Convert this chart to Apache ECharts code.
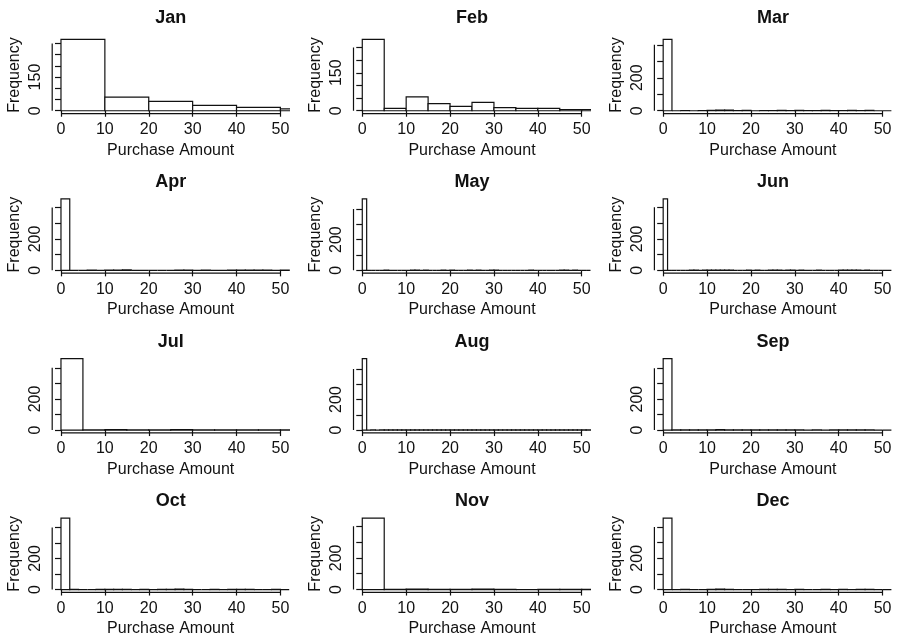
<!DOCTYPE html>
<html>
<head>
<meta charset="utf-8">
<title>Purchase Amount by Month</title>
<script src="https://cdn.jsdelivr.net/npm/echarts@6/dist/echarts.min.js"></script>
<style>
  html, body { margin: 0; padding: 0; background: #fff; }
  #chart { width: 897px; height: 638px; }
</style>
</head>
<body>
<div id="chart"></div>
<script>
// Monthly histograms of purchase amounts: bin width and bin counts from 0 upward.
var months = ['Jan', 'Feb', 'Mar', 'Apr', 'May', 'Jun', 'Jul', 'Aug', 'Sep', 'Oct', 'Nov', 'Dec'];
var binWidths = [10, 5, 2, 2, 1, 1, 5, 1, 2, 2, 5, 2];

var janCounts = [318, 61, 42, 24, 15, 8];
var febCounts = [282, 9, 55, 28, 17, 33, 12, 9, 9, 5, 5];
var marCounts = [433, 0, 1, 0, 1, 2, 4, 4, 1, 2, 0, 1, 1, 2, 1, 2, 1, 1, 2, 1, 1, 2, 1, 2, 0, 0];
var aprCounts = [455, 0, 0, 1, 0, 2, 1, 3, 0, 0, 0, 0, 0, 2, 2, 0, 1, 0, 0, 1, 1, 1, 1, 2, 0, 1];
var mayCounts = [465, 0, 0, 0, 0, 1, 0, 0, 0, 0, 0, 1, 1, 0, 1, 0, 0, 0, 1, 0, 1, 0, 0, 0, 1, 0,
                 1, 0, 0, 2, 1, 0, 0, 0, 0, 0, 0, 0, 1, 0, 0, 0, 0, 0, 0, 1, 1, 0, 1, 0, 0, 0];
var junCounts = [453, 0, 0, 0, 0, 0, 1, 1, 0, 1, 1, 2, 2, 1, 1, 1, 0, 0, 0, 1, 0, 1, 0, 0, 1, 1,
                 1, 0, 1, 1, 0, 1, 0, 0, 0, 1, 0, 0, 0, 0, 1, 1, 1, 1, 1, 0, 1, 0, 0, 0, 0, 0];
var julCounts = [459, 1, 3, 1, 1, 3, 1, 1, 1, 1, 1];
var augCounts = [468, 0, 1, 0, 1, 1, 2, 2, 1, 1, 2, 1, 1, 2, 1, 2, 2, 1, 1, 2, 1, 1, 2, 1, 1, 2,
                 1, 1, 2, 2, 1, 1, 2, 1, 1, 2, 1, 1, 2, 1, 2, 1, 1, 2, 1, 1, 2, 1, 1, 1, 2, 1];
var sepCounts = [462, 2, 1, 1, 1, 2, 3, 1, 1, 1, 1, 1, 1, 1, 1, 1, 0, 1, 0, 1, 1, 1, 1, 1, 0, 0];
var octCounts = [460, 1, 0, 0, 1, 1, 2, 1, 0, 1, 0, 1, 2, 3, 1, 0, 0, 1, 0, 1, 1, 1, 0, 0, 1, 0];
var novCounts = [451, 1, 3, 1, 1, 3, 1, 0, 1, 1, 1];
var decCounts = [457, 0, 1, 0, 0, 1, 3, 2, 0, 0, 0, 1, 2, 2, 0, 1, 0, 0, 1, 0, 1, 0, 1, 1, 0, 0];

var allCounts = [janCounts, febCounts, marCounts, aprCounts, mayCounts, junCounts,
                 julCounts, augCounts, sepCounts, octCounts, novCounts, decCounts];

// Axis ticks and the subset of tick values that carry a label
var xTicks = [0, 10, 20, 30, 40, 50];
var xLimits = [0, 50];
var yTicksSmall = [0, 50, 100, 150, 200, 250, 300];
var yTicksFeb = [0, 50, 100, 150, 200, 250];
var yTicksLarge = [0, 100, 200, 300, 400];
var yLabelsSmall = [0, 150];
var yLabelsLarge = [0, 200];
var yTicksByMonth = [yTicksSmall, yTicksFeb, yTicksLarge, yTicksLarge, yTicksLarge, yTicksLarge,
                     yTicksLarge, yTicksLarge, yTicksLarge, yTicksLarge, yTicksLarge, yTicksLarge];
var yLabelsByMonth = [yLabelsSmall, yLabelsSmall, yLabelsLarge, yLabelsLarge, yLabelsLarge, yLabelsLarge,
                      yLabelsLarge, yLabelsLarge, yLabelsLarge, yLabelsLarge, yLabelsLarge, yLabelsLarge];
var xAxisTitle = 'Purchase Amount';
var yAxisTitles = ['Frequency', 'Frequency', 'Frequency', 'Frequency', 'Frequency', 'Frequency',
                   '', '', '', 'Frequency', 'Frequency', 'Frequency'];

// Panel layout (3 columns x 4 rows)
var FONT = '"Liberation Sans", Arial, Helvetica, sans-serif';
var INK = '#111';
var colLeft = [52.2, 353.5, 654.4];
var rowTop = [36.5, 196.1, 355.8, 515.3];
var titleMid = [16.6, 181.2, 340.8, 500.2];
var panelW = 237;
var panelH = 77.1;
var PAD = 0.04; // axis range padding on each side
var LINE_W = 1.2;

var chart = echarts.init(document.getElementById('chart'), null, { renderer: 'canvas' });

var grids = [], xAxes = [], yAxes = [], series = [], titles = [];

months.forEach(function (m, i) {
  var r = Math.floor(i / 3), c = i % 3;
  var counts = allCounts[i];
  var w = binWidths[i];
  var maxCount = Math.max.apply(null, counts);
  var yMin = -PAD * maxCount, yMax = (1 + PAD) * maxCount;
  var span = xLimits[1] - xLimits[0];
  var xMin = xLimits[0] - PAD * span, xMax = xLimits[1] + PAD * span;
  var yTicks = yTicksByMonth[i];

  grids.push({ left: colLeft[c], top: rowTop[r], width: panelW, height: panelH, containLabel: false });

  titles.push({
    text: m,
    left: colLeft[c] + panelW / 2,
    top: titleMid[r] - 8,
    textAlign: 'center',
    padding: 0,
    textStyle: { fontFamily: FONT, fontSize: 18, fontWeight: 'bold', color: INK }
  });

  xAxes.push({
    gridIndex: i, type: 'value', min: xMin, max: xMax,
    axisLine: { show: false },
    splitLine: { show: false },
    axisTick: { show: true, customValues: xTicks, length: 6, lineStyle: { color: INK, width: LINE_W } },
    axisLabel: { show: true, customValues: xTicks, margin: 8, fontFamily: FONT, fontSize: 16, color: INK },
    name: xAxisTitle, nameLocation: 'middle', nameGap: 28.5,
    nameTextStyle: { fontFamily: FONT, fontSize: 16, color: INK }
  });

  yAxes.push({
    gridIndex: i, type: 'value', min: yMin, max: yMax,
    axisLine: { show: false },
    splitLine: { show: false },
    axisTick: { show: true, customValues: yTicks, length: 6, lineStyle: { color: INK, width: LINE_W } },
    axisLabel: { show: true, customValues: yLabelsByMonth[i], rotate: 90, margin: 9,
                 fontFamily: FONT, fontSize: 16, color: INK },
    name: yAxisTitles[i], nameLocation: 'middle', nameGap: 30,
    nameTextStyle: { fontFamily: FONT, fontSize: 16, color: INK }
  });

  // Histogram bins: [start, end, count]
  var bins = counts.map(function (n, k) { return [k * w, (k + 1) * w, n]; });

  series.push({
    type: 'custom',
    xAxisIndex: i, yAxisIndex: i,
    clip: true,
    silent: true,
    encode: { x: [0, 1], y: 2 },
    data: bins,
    renderItem: function (params, api) {
      var p0 = api.coord([api.value(0), 0]);
      var p1 = api.coord([api.value(1), api.value(2)]);
      return {
        type: 'rect',
        shape: { x: p0[0], y: p1[1], width: p1[0] - p0[0], height: p0[1] - p1[1] },
        style: { fill: '#fff', stroke: INK, lineWidth: LINE_W }
      };
    }
  });

  // Axis lines run from the first to the last tick, along the plot edges
  series.push({
    type: 'line', xAxisIndex: i, yAxisIndex: i, silent: true, clip: false,
    symbol: 'none', lineStyle: { color: INK, width: LINE_W },
    data: [[xTicks[0], yMin], [xTicks[xTicks.length - 1], yMin]]
  });
  series.push({
    type: 'line', xAxisIndex: i, yAxisIndex: i, silent: true, clip: false,
    symbol: 'none', lineStyle: { color: INK, width: LINE_W },
    data: [[xMin, yTicks[0]], [xMin, yTicks[yTicks.length - 1]]]
  });
});

chart.setOption({
  animation: false,
  backgroundColor: '#fff',
  title: titles,
  grid: grids,
  xAxis: xAxes,
  yAxis: yAxes,
  series: series
});
</script>
</body>
</html>
